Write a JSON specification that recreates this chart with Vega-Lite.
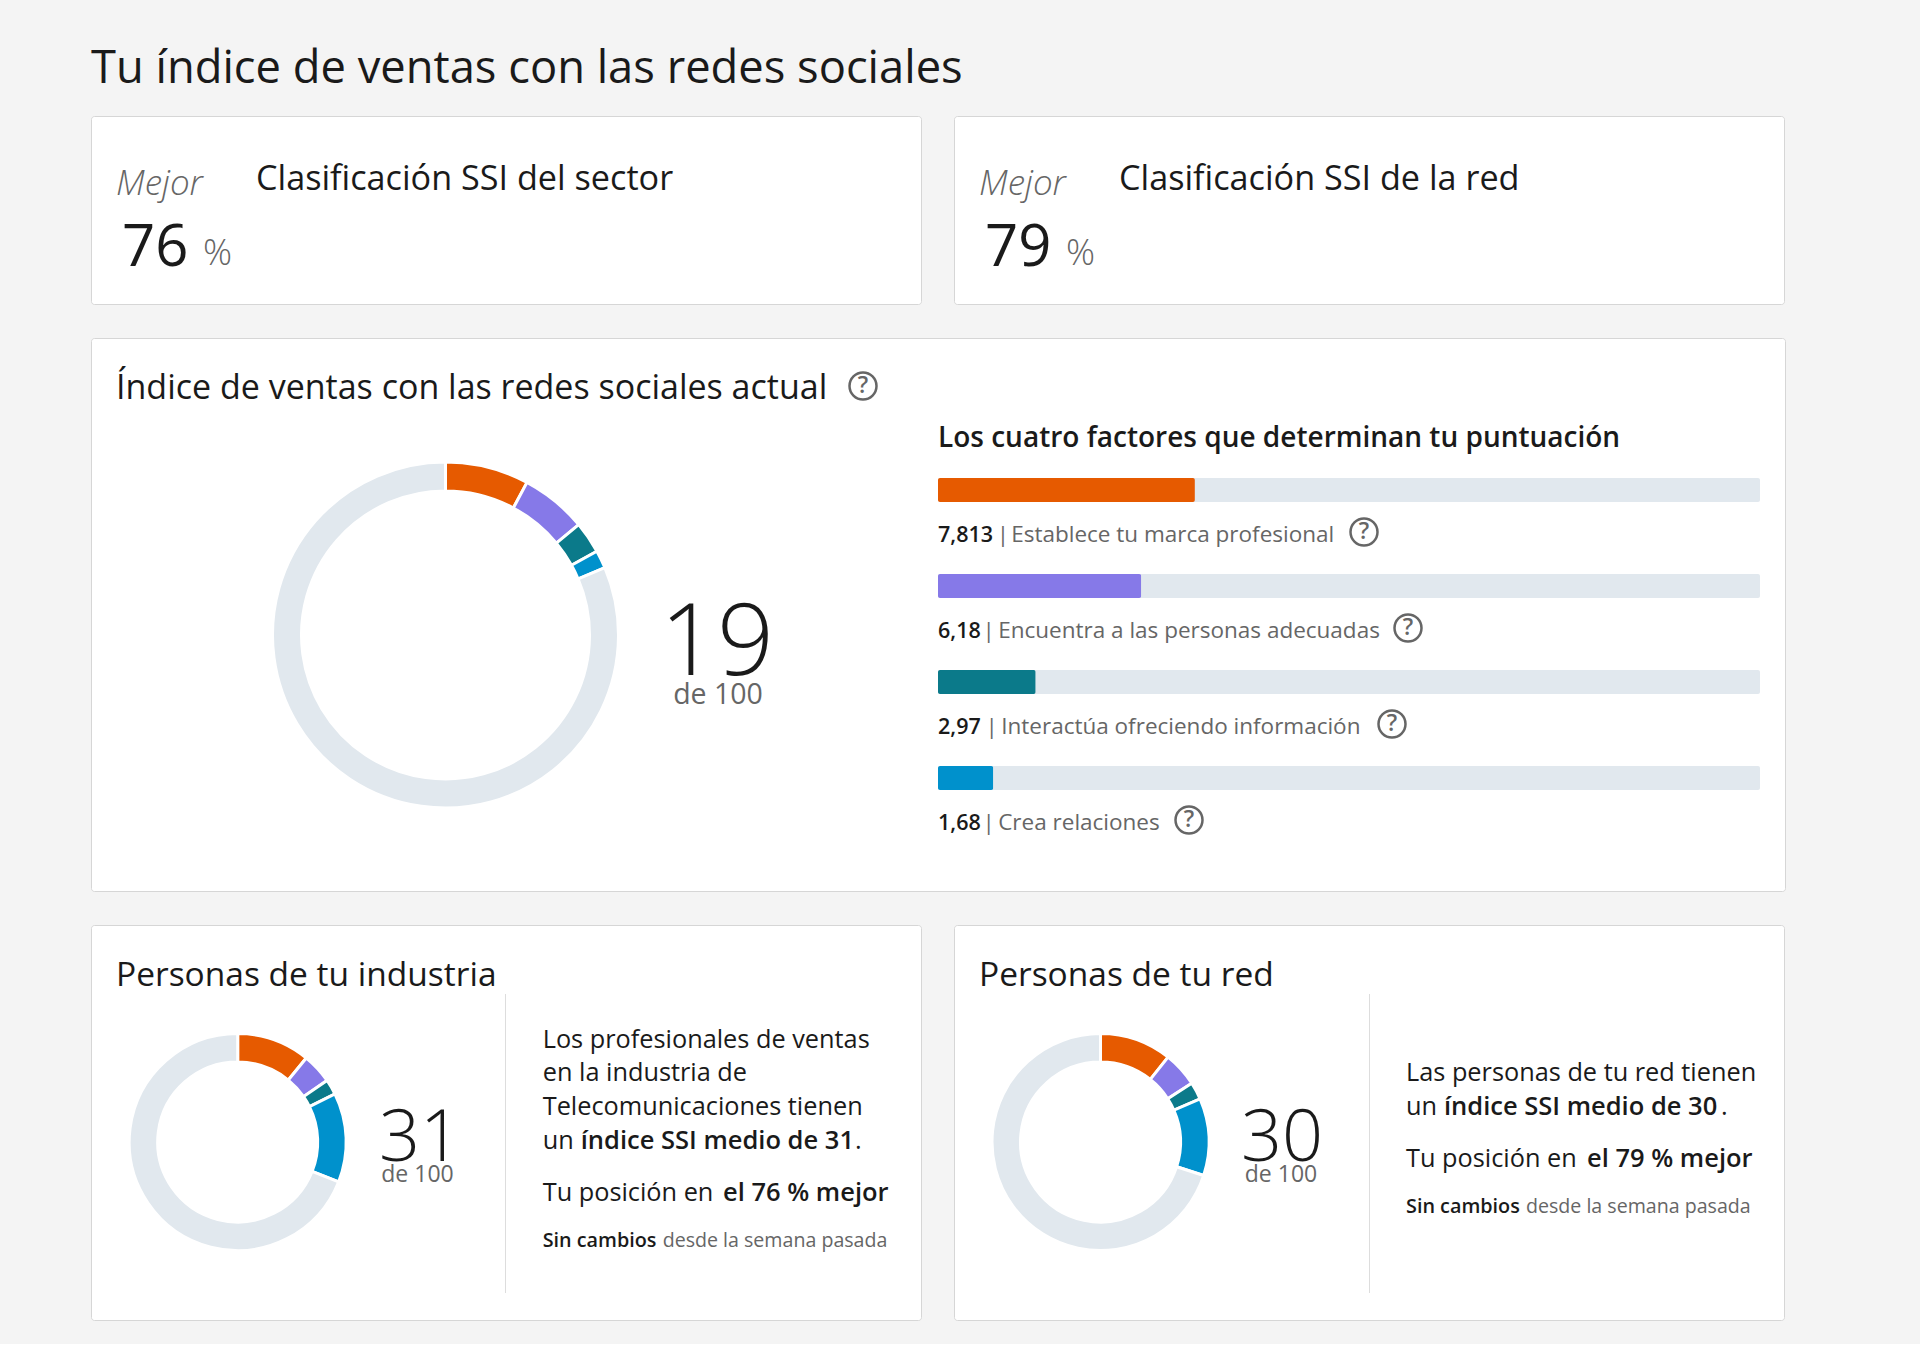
{"$schema":"https://vega.github.io/schema/vega-lite/v6.json","background":"#f4f4f4","padding":{"left":90,"top":47,"right":134,"bottom":23},"title":{"text":"Tu índice de ventas con las redes sociales","anchor":"start","frame":"group","font":"Open Sans","fontSize":45.3,"fontWeight":400,"color":"#1a1a1a","offset":23},"config":{"view":{"fill":"#ffffff","stroke":"#d6d6d6","cornerRadius":3},"font":"Open Sans","text":{"font":"Open Sans","align":"left","baseline":"alphabetic"}},"spacing":32,"vconcat":[{"spacing":31,"hconcat":[{"width":830,"height":188,"layer":[
{"data":{"values":[{"t":"Mejor"}]},"mark":{"type":"text","fontSize":35,"fontStyle":"italic","fontWeight":300,"color":"#666666"},"encoding":{"text":{"field":"t"},"x":{"value":25},"y":{"value":79}}},
{"data":{"values":[{"t":"Clasificación SSI del sector"}]},"mark":{"type":"text","fontSize":34.2,"color":"#1a1a1a"},"encoding":{"text":{"field":"t"},"x":{"value":165},"y":{"value":74}}},
{"data":{"values":[{"t":"76"}]},"mark":{"type":"text","fontSize":58,"color":"#1a1a1a"},"encoding":{"text":{"field":"t"},"x":{"value":31},"y":{"value":150}}},
{"data":{"values":[{"t":"%"}]},"mark":{"type":"text","fontSize":36,"fontWeight":300,"color":"#666666"},"encoding":{"text":{"field":"t"},"x":{"value":112},"y":{"value":149}}}
]},{"width":830,"height":188,"layer":[
{"data":{"values":[{"t":"Mejor"}]},"mark":{"type":"text","fontSize":35,"fontStyle":"italic","fontWeight":300,"color":"#666666"},"encoding":{"text":{"field":"t"},"x":{"value":25},"y":{"value":79}}},
{"data":{"values":[{"t":"Clasificación SSI de la red"}]},"mark":{"type":"text","fontSize":34.2,"color":"#1a1a1a"},"encoding":{"text":{"field":"t"},"x":{"value":165},"y":{"value":74}}},
{"data":{"values":[{"t":"79"}]},"mark":{"type":"text","fontSize":58,"color":"#1a1a1a"},"encoding":{"text":{"field":"t"},"x":{"value":31},"y":{"value":150}}},
{"data":{"values":[{"t":"%"}]},"mark":{"type":"text","fontSize":36,"fontWeight":300,"color":"#666666"},"encoding":{"text":{"field":"t"},"x":{"value":112},"y":{"value":149}}}
]}]},
{"width":1694,"height":553,"layer":[
{"data":{"values":[{"t":"Índice de ventas con las redes sociales actual"}]},"mark":{"type":"text","fontSize":34,"color":"#1a1a1a"},"encoding":{"text":{"field":"t"},"x":{"value":25},"y":{"value":61}}},
{"data":{"values":[{"t":"Los cuatro factores que determinan tu puntuación"}]},"mark":{"type":"text","fontSize":28,"fontWeight":600,"color":"#1a1a1a"},"encoding":{"text":{"field":"t"},"x":{"value":847},"y":{"value":109}}},
{"data":{"values":[{"factor":"Establece","valor":7.81,"orden":1},{"factor":"Encuentra","valor":6.18,"orden":2},{"factor":"Interactúa","valor":2.97,"orden":3},{"factor":"Crea","valor":1.68,"orden":4},{"factor":"Resto","valor":81.36,"orden":5}]},"mark":{"type":"arc","radius":173,"radius2":144,"stroke":"#ffffff","strokeWidth":3},"encoding":{"theta":{"field":"valor","type":"quantitative","stack":true},"order":{"field":"orden"},"color":{"field":"factor","type":"nominal","legend":null,"scale":{"domain":["Establece","Encuentra","Interactúa","Crea","Resto"],"range":["#e65a00","#8679e8","#0b7a8a","#0091cc","#e1e8ee"]}},"x":{"value":354.5},"y":{"value":297}}},
{"data":{"values":[{"t":"19"}]},"mark":{"type":"text","align":"center","fontSize":100,"fontWeight":300,"color":"#1a1a1a"},"encoding":{"text":{"field":"t"},"x":{"value":626},"y":{"value":337}}},
{"data":{"values":[{"t":"de 100"}]},"mark":{"type":"text","align":"center","fontSize":28.5,"color":"#666666"},"encoding":{"text":{"field":"t"},"x":{"value":627},"y":{"value":366}}},
{"data":{"name":"factores","values":[{"factor":"Establece","tope":25,"valor":7.813,"texto":"7,813"},{"factor":"Encuentra","tope":25,"valor":6.18,"texto":"6,18"},{"factor":"Interactúa","tope":25,"valor":2.97,"texto":"2,97"},{"factor":"Crea","tope":25,"valor":1.68,"texto":"1,68"}]},"mark":{"type":"bar","height":24,"color":"#e1e8ee","cornerRadius":2},"encoding":{"x":{"field":"tope","type":"quantitative","axis":null,"scale":{"domain":[0,25],"nice":false,"range":[847,1669]}},"y":{"field":"factor","type":"nominal","axis":null,"sort":null,"scale":{"domain":["Establece","Encuentra","Interactúa","Crea"],"range":[104,488],"paddingInner":0,"paddingOuter":0}}}},
{"data":{"name":"factores"},"mark":{"type":"bar","height":24,"cornerRadius":2},"encoding":{"x":{"field":"valor","type":"quantitative","axis":null},"y":{"field":"factor","type":"nominal","axis":null},"color":{"field":"factor","type":"nominal","legend":null}}},
{"data":{"name":"factores"},"mark":{"type":"text","dy":52,"fontSize":21.5,"fontWeight":600,"color":"#1a1a1a"},"encoding":{"text":{"field":"texto"},"x":{"value":847},"y":{"field":"factor","type":"nominal","axis":null}}},
{"data":{"values":[{"t":"|"}]},"mark":{"type":"text","fontSize":22.5,"color":"#666666"},"encoding":{"text":{"field":"t"},"x":{"value":905.7},"y":{"value":204}}},
{"data":{"values":[{"t":"Establece tu marca profesional"}]},"mark":{"type":"text","fontSize":22.5,"color":"#666666"},"encoding":{"text":{"field":"t"},"x":{"value":920.2},"y":{"value":204}}},
{"data":{"values":[{"t":"|"}]},"mark":{"type":"text","fontSize":22.5,"color":"#666666"},"encoding":{"text":{"field":"t"},"x":{"value":891.5},"y":{"value":300}}},
{"data":{"values":[{"t":"Encuentra a las personas adecuadas"}]},"mark":{"type":"text","fontSize":22.5,"color":"#666666"},"encoding":{"text":{"field":"t"},"x":{"value":907.2},"y":{"value":300}}},
{"data":{"values":[{"t":"|"}]},"mark":{"type":"text","fontSize":22.5,"color":"#666666"},"encoding":{"text":{"field":"t"},"x":{"value":894.5},"y":{"value":396}}},
{"data":{"values":[{"t":"Interactúa ofreciendo información"}]},"mark":{"type":"text","fontSize":22.5,"color":"#666666"},"encoding":{"text":{"field":"t"},"x":{"value":910.2},"y":{"value":396}}},
{"data":{"values":[{"t":"|"}]},"mark":{"type":"text","fontSize":22.5,"color":"#666666"},"encoding":{"text":{"field":"t"},"x":{"value":891.5},"y":{"value":492}}},
{"data":{"values":[{"t":"Crea relaciones"}]},"mark":{"type":"text","fontSize":22.5,"color":"#666666"},"encoding":{"text":{"field":"t"},"x":{"value":907.2},"y":{"value":492}}},
{"data":{"values":[{"t":"?"}]},"mark":{"type":"point","shape":"circle","size":729,"filled":false,"opacity":1,"stroke":"#666666","strokeWidth":2.5},"encoding":{"x":{"value":772},"y":{"value":48}}},
{"data":{"values":[{"t":"?"}]},"mark":{"type":"text","align":"center","baseline":"middle","fontSize":23,"fontWeight":600,"color":"#666666"},"encoding":{"text":{"field":"t"},"x":{"value":772},"y":{"value":48}}},
{"data":{"values":[{"t":"?"}]},"mark":{"type":"point","shape":"circle","size":729,"filled":false,"opacity":1,"stroke":"#666666","strokeWidth":2.5},"encoding":{"x":{"value":1273},"y":{"value":194}}},
{"data":{"values":[{"t":"?"}]},"mark":{"type":"text","align":"center","baseline":"middle","fontSize":23,"fontWeight":600,"color":"#666666"},"encoding":{"text":{"field":"t"},"x":{"value":1273},"y":{"value":194}}},
{"data":{"values":[{"t":"?"}]},"mark":{"type":"point","shape":"circle","size":729,"filled":false,"opacity":1,"stroke":"#666666","strokeWidth":2.5},"encoding":{"x":{"value":1317},"y":{"value":290}}},
{"data":{"values":[{"t":"?"}]},"mark":{"type":"text","align":"center","baseline":"middle","fontSize":23,"fontWeight":600,"color":"#666666"},"encoding":{"text":{"field":"t"},"x":{"value":1317},"y":{"value":290}}},
{"data":{"values":[{"t":"?"}]},"mark":{"type":"point","shape":"circle","size":729,"filled":false,"opacity":1,"stroke":"#666666","strokeWidth":2.5},"encoding":{"x":{"value":1301},"y":{"value":386}}},
{"data":{"values":[{"t":"?"}]},"mark":{"type":"text","align":"center","baseline":"middle","fontSize":23,"fontWeight":600,"color":"#666666"},"encoding":{"text":{"field":"t"},"x":{"value":1301},"y":{"value":386}}},
{"data":{"values":[{"t":"?"}]},"mark":{"type":"point","shape":"circle","size":729,"filled":false,"opacity":1,"stroke":"#666666","strokeWidth":2.5},"encoding":{"x":{"value":1098},"y":{"value":482}}},
{"data":{"values":[{"t":"?"}]},"mark":{"type":"text","align":"center","baseline":"middle","fontSize":23,"fontWeight":600,"color":"#666666"},"encoding":{"text":{"field":"t"},"x":{"value":1098},"y":{"value":482}}}
]},
{"spacing":31,"hconcat":[{"width":830,"height":395,"layer":[
{"data":{"values":[{"t":"Personas de tu industria"}]},"mark":{"type":"text","fontSize":33.5,"color":"#1a1a1a"},"encoding":{"text":{"field":"t"},"x":{"value":25},"y":{"value":61}}},
{"data":{"values":[{"factor":"Establece","valor":10.9,"orden":1},{"factor":"Encuentra","valor":4.5,"orden":2},{"factor":"Interactúa","valor":2.3,"orden":3},{"factor":"Crea","valor":13.3,"orden":4},{"factor":"Resto","valor":69,"orden":5}]},"mark":{"type":"arc","radius":108.5,"radius2":80,"stroke":"#ffffff","strokeWidth":3},"encoding":{"theta":{"field":"valor","type":"quantitative","stack":true},"order":{"field":"orden"},"color":{"field":"factor","type":"nominal","legend":null,"scale":{"domain":["Establece","Encuentra","Interactúa","Crea","Resto"],"range":["#e65a00","#8679e8","#0b7a8a","#0091cc","#e1e8ee"]}},"x":{"value":146.7},"y":{"value":217}}},
{"data":{"values":[{"t":"31"}]},"mark":{"type":"text","align":"center","fontSize":72,"fontWeight":300,"color":"#1a1a1a"},"encoding":{"text":{"field":"t"},"x":{"value":329},"y":{"value":236}}},
{"data":{"values":[{"t":"de 100"}]},"mark":{"type":"text","align":"center","fontSize":23,"color":"#666666"},"encoding":{"text":{"field":"t"},"x":{"value":326.5},"y":{"value":257}}},
{"data":{"values":[{"t":"divisor"}]},"mark":{"type":"rule","color":"#dddddd","strokeWidth":1},"encoding":{"x":{"value":414.5},"y":{"value":69},"y2":{"value":368}}},
{"data":{"values":[{"t":"Los profesionales de ventas"}]},"mark":{"type":"text","fontSize":25.3,"color":"#1a1a1a"},"encoding":{"text":{"field":"t"},"x":{"value":451.7},"y":{"value":123}}},
{"data":{"values":[{"t":"en la industria de"}]},"mark":{"type":"text","fontSize":25.3,"color":"#1a1a1a"},"encoding":{"text":{"field":"t"},"x":{"value":451.7},"y":{"value":156}}},
{"data":{"values":[{"t":"Telecomunicaciones tienen"}]},"mark":{"type":"text","fontSize":25.3,"color":"#1a1a1a"},"encoding":{"text":{"field":"t"},"x":{"value":451.7},"y":{"value":190}}},
{"data":{"values":[{"t":"un"}]},"mark":{"type":"text","fontSize":25.3,"color":"#1a1a1a"},"encoding":{"text":{"field":"t"},"x":{"value":451.7},"y":{"value":224}}},
{"data":{"values":[{"t":"índice SSI medio de 31"}]},"mark":{"type":"text","fontSize":25.5,"fontWeight":600,"color":"#1a1a1a"},"encoding":{"text":{"field":"t"},"x":{"value":489.7},"y":{"value":224}}},
{"data":{"values":[{"t":"."}]},"mark":{"type":"text","fontSize":25.3,"color":"#1a1a1a"},"encoding":{"text":{"field":"t"},"x":{"value":764},"y":{"value":224}}},
{"data":{"values":[{"t":"Tu posición en"}]},"mark":{"type":"text","fontSize":25.3,"color":"#1a1a1a"},"encoding":{"text":{"field":"t"},"x":{"value":451.7},"y":{"value":276}}},
{"data":{"values":[{"t":"el 76 % mejor"}]},"mark":{"type":"text","fontSize":25.5,"fontWeight":600,"color":"#1a1a1a"},"encoding":{"text":{"field":"t"},"x":{"value":632},"y":{"value":276}}},
{"data":{"values":[{"t":"Sin cambios"}]},"mark":{"type":"text","fontSize":19.8,"fontWeight":600,"color":"#1a1a1a"},"encoding":{"text":{"field":"t"},"x":{"value":451.7},"y":{"value":322}}},
{"data":{"values":[{"t":"desde la semana pasada"}]},"mark":{"type":"text","fontSize":19.6,"color":"#666666"},"encoding":{"text":{"field":"t"},"x":{"value":571.7},"y":{"value":322}}}
]},{"width":830,"height":395,"layer":[
{"data":{"values":[{"t":"Personas de tu red"}]},"mark":{"type":"text","fontSize":33.5,"color":"#1a1a1a"},"encoding":{"text":{"field":"t"},"x":{"value":25},"y":{"value":61}}},
{"data":{"values":[{"factor":"Establece","valor":10.7,"orden":1},{"factor":"Encuentra","valor":5.2,"orden":2},{"factor":"Interactúa","valor":2.6,"orden":3},{"factor":"Crea","valor":11.5,"orden":4},{"factor":"Resto","valor":70,"orden":5}]},"mark":{"type":"arc","radius":108.5,"radius2":80,"stroke":"#ffffff","strokeWidth":3},"encoding":{"theta":{"field":"valor","type":"quantitative","stack":true},"order":{"field":"orden"},"color":{"field":"factor","type":"nominal","legend":null,"scale":{"domain":["Establece","Encuentra","Interactúa","Crea","Resto"],"range":["#e65a00","#8679e8","#0b7a8a","#0091cc","#e1e8ee"]}},"x":{"value":146.5},"y":{"value":217}}},
{"data":{"values":[{"t":"30"}]},"mark":{"type":"text","align":"center","fontSize":72,"fontWeight":300,"color":"#1a1a1a"},"encoding":{"text":{"field":"t"},"x":{"value":328},"y":{"value":236}}},
{"data":{"values":[{"t":"de 100"}]},"mark":{"type":"text","align":"center","fontSize":23,"color":"#666666"},"encoding":{"text":{"field":"t"},"x":{"value":327},"y":{"value":257}}},
{"data":{"values":[{"t":"divisor"}]},"mark":{"type":"rule","color":"#dddddd","strokeWidth":1},"encoding":{"x":{"value":415.5},"y":{"value":69},"y2":{"value":368}}},
{"data":{"values":[{"t":"Las personas de tu red tienen"}]},"mark":{"type":"text","fontSize":25.3,"color":"#1a1a1a"},"encoding":{"text":{"field":"t"},"x":{"value":452},"y":{"value":156}}},
{"data":{"values":[{"t":"un"}]},"mark":{"type":"text","fontSize":25.3,"color":"#1a1a1a"},"encoding":{"text":{"field":"t"},"x":{"value":452},"y":{"value":190}}},
{"data":{"values":[{"t":"índice SSI medio de 30"}]},"mark":{"type":"text","fontSize":25.5,"fontWeight":600,"color":"#1a1a1a"},"encoding":{"text":{"field":"t"},"x":{"value":490},"y":{"value":190}}},
{"data":{"values":[{"t":"."}]},"mark":{"type":"text","fontSize":25.3,"color":"#1a1a1a"},"encoding":{"text":{"field":"t"},"x":{"value":767},"y":{"value":190}}},
{"data":{"values":[{"t":"Tu posición en"}]},"mark":{"type":"text","fontSize":25.3,"color":"#1a1a1a"},"encoding":{"text":{"field":"t"},"x":{"value":452},"y":{"value":242}}},
{"data":{"values":[{"t":"el 79 % mejor"}]},"mark":{"type":"text","fontSize":25.5,"fontWeight":600,"color":"#1a1a1a"},"encoding":{"text":{"field":"t"},"x":{"value":633},"y":{"value":242}}},
{"data":{"values":[{"t":"Sin cambios"}]},"mark":{"type":"text","fontSize":19.8,"fontWeight":600,"color":"#1a1a1a"},"encoding":{"text":{"field":"t"},"x":{"value":452},"y":{"value":288}}},
{"data":{"values":[{"t":"desde la semana pasada"}]},"mark":{"type":"text","fontSize":19.6,"color":"#666666"},"encoding":{"text":{"field":"t"},"x":{"value":572},"y":{"value":288}}}
]}]}]}
